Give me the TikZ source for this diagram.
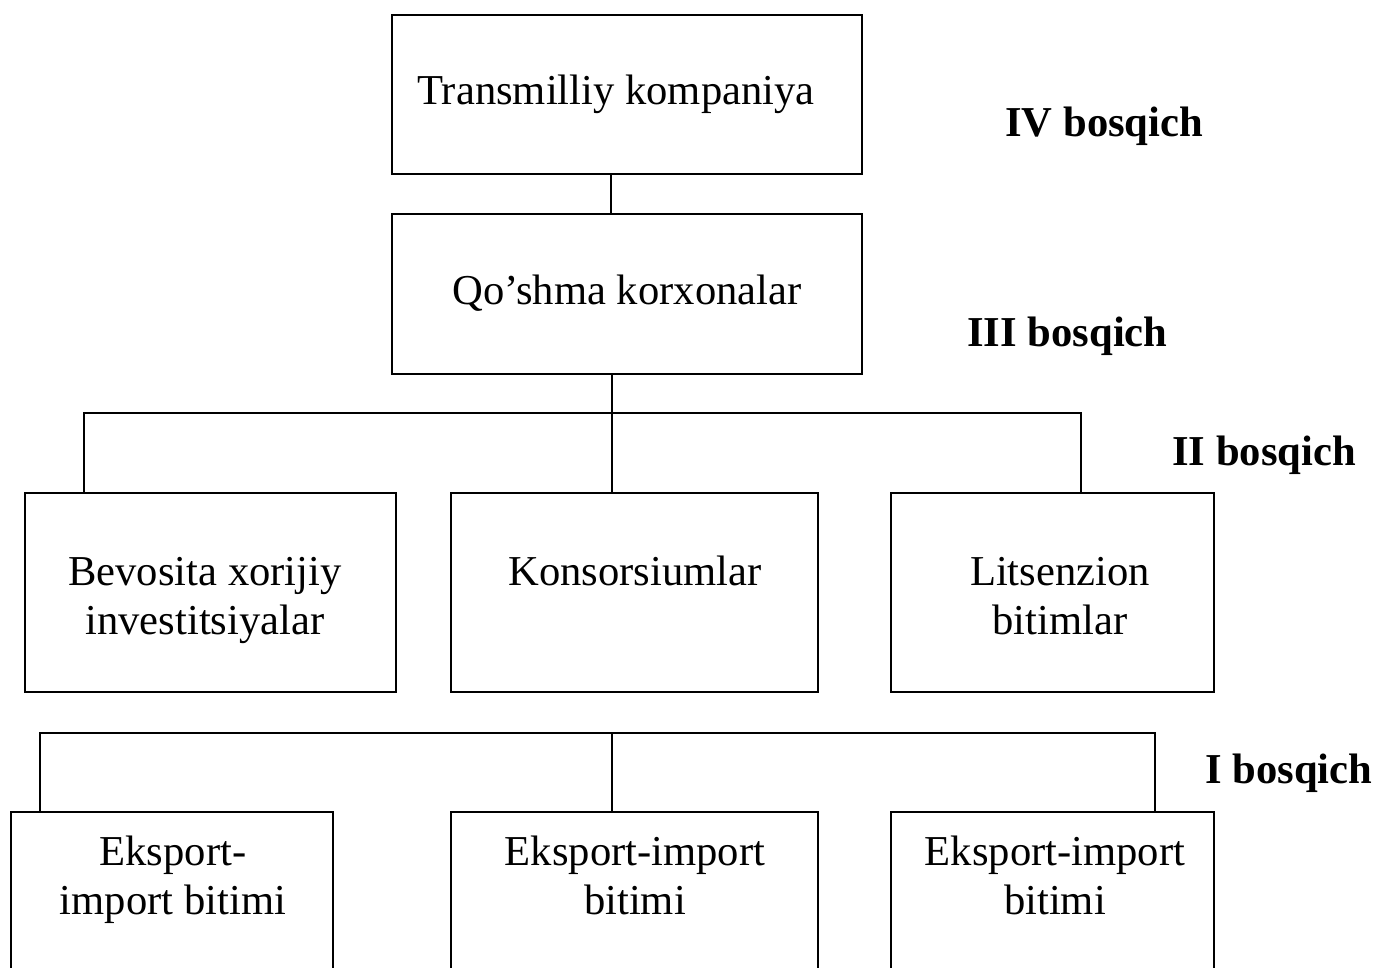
\documentclass[tikz,border=0pt]{standalone}
\usepackage{fontspec}
\setmainfont{Liberation Serif}
\begin{document}
\begin{tikzpicture}[x=0.5pt,y=-0.5pt,
  box/.style={draw,line width=1pt,inner sep=0pt,outer sep=0pt,anchor=north west},
  conn/.style={line width=1pt},
  txt/.style={inner sep=0pt,anchor=base,font=\fontsize{21.3}{24.5}\selectfont},
  lvl/.style={inner sep=0pt,anchor=base west,font=\fontsize{21.3}{24.5}\selectfont\bfseries}]
\clip (0,0) rectangle (1376,968);
\fill[white] (0,0) rectangle (1376,968);
% boxes
\node[box,minimum width=235pt,minimum height=79.5pt] (T) at (392,15) {};
\node[box,minimum width=235pt,minimum height=80pt] (Q) at (392,214) {};
\node[box,minimum width=185.5pt,minimum height=99.5pt] (B) at (25,493) {};
\node[box,minimum width=183.5pt,minimum height=99.5pt] (K) at (451,493) {};
\node[box,minimum width=161.5pt,minimum height=99.5pt] (L) at (891,493) {};
\node[box,minimum width=161pt,minimum height=100pt] (E1) at (11,812) {};
\node[box,minimum width=183.5pt,minimum height=100pt] (E2) at (451,812) {};
\node[box,minimum width=161.5pt,minimum height=100pt] (E3) at (891,812) {};
% texts
\node[txt] (tT) at (616,105) {Transmilliy kompaniya};
\node[txt] (tQ) at (627,305) {Qo’shma korxonalar};
\node[txt] (tB) at (205,585) {\begin{tabular}[t]{@{}c@{}}Bevosita xorijiy\\investitsiyalar\end{tabular}};
\node[txt] (tK) at (635,585) {Konsorsiumlar};
\node[txt] (tL) at (1060,585) {\begin{tabular}[t]{@{}c@{}}Litsenzion\\bitimlar\end{tabular}};
\node[txt] (tE1) at (173,865) {\begin{tabular}[t]{@{}c@{}}Eksport-\\import bitimi\end{tabular}};
\node[txt] (tE2) at (635,865) {\begin{tabular}[t]{@{}c@{}}Eksport-import\\bitimi\end{tabular}};
\node[txt] (tE3) at (1055,865) {\begin{tabular}[t]{@{}c@{}}Eksport-import\\bitimi\end{tabular}};
% level labels
\node[lvl] (l4) at (1005,137) {IV bosqich};
\node[lvl] (l3) at (967,346) {III bosqich};
\node[lvl] (l2) at (1172,465) {II bosqich};
\node[lvl] (l1) at (1205,783) {I bosqich};
% connectors
\coordinate (c0) at (611,0);
\draw[conn] (T.south -| c0) -- (Q.north -| c0);
\coordinate (h1) at (612,413);
\coordinate (b1l) at (84,413);
\coordinate (b1r) at (1081,413);
\draw[conn] (h1 |- Q.south) -- (h1) -- (h1 |- K.north);
\draw[conn] (b1l |- B.north) -- (b1l) -- (b1r) -- (b1r |- L.north);
\coordinate (b2l) at (40,733);
\coordinate (b2m) at (612,733);
\coordinate (b2r) at (1155,733);
\draw[conn] (b2l |- E1.north) -- (b2l) -- (b2r) -- (b2r |- E3.north);
\draw[conn] (b2m) -- (b2m |- E2.north);
\end{tikzpicture}
\end{document}
